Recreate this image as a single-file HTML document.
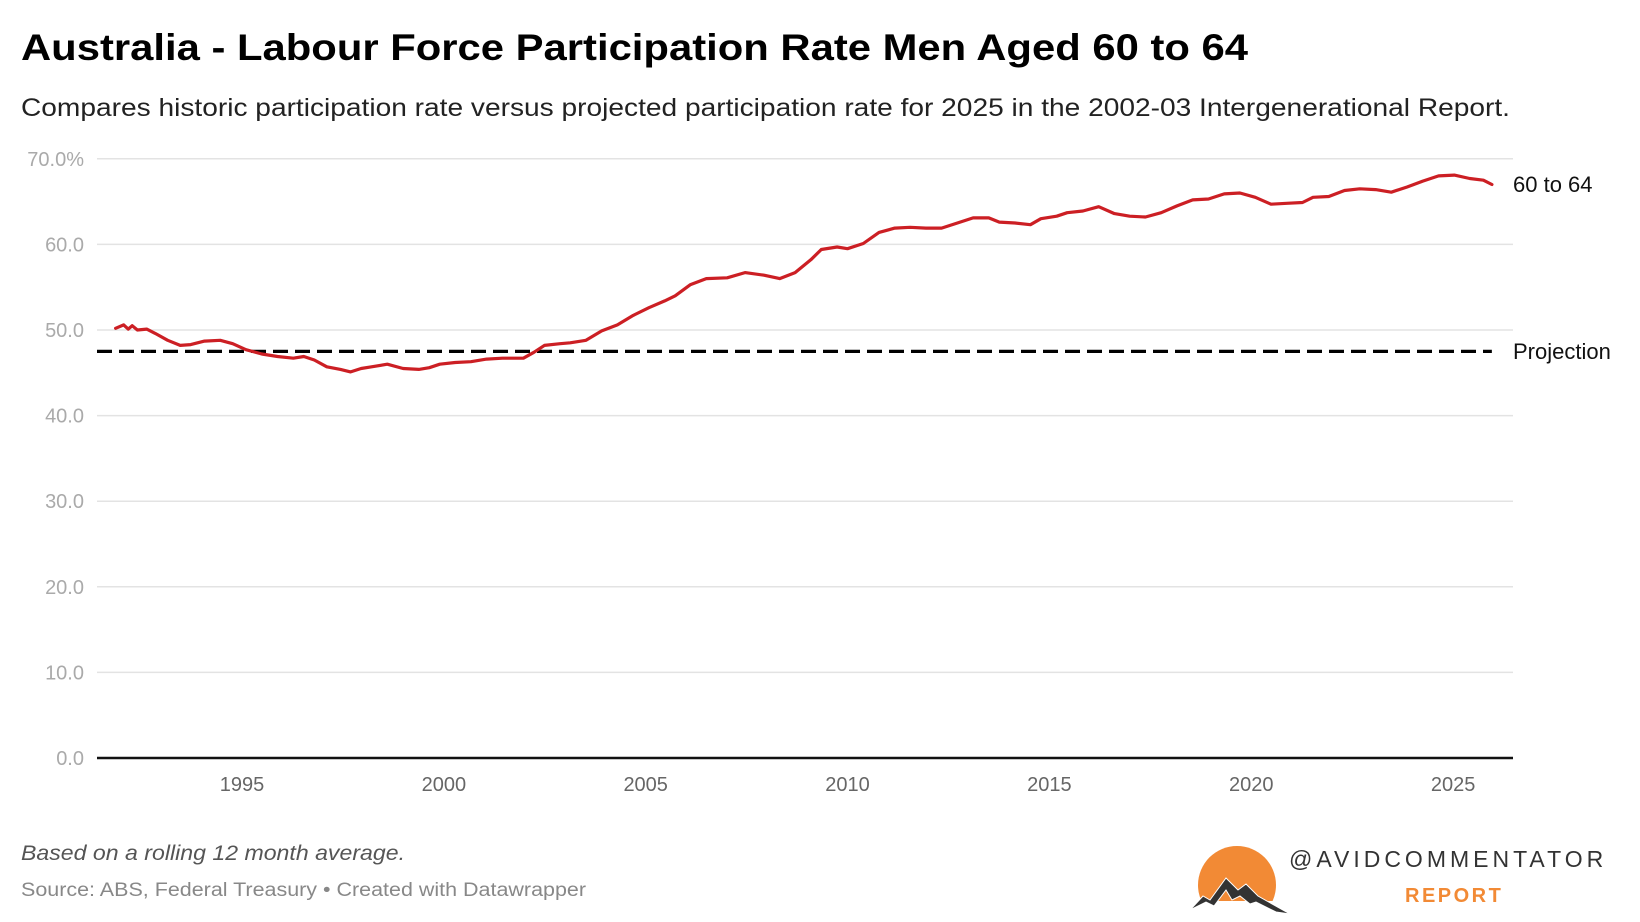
<!DOCTYPE html>
<html><head><meta charset="utf-8"><style>
html,body{margin:0;padding:0;background:#fff;}
svg{display:block;font-family:"Liberation Sans",Arial,sans-serif;}
</style></head><body>
<svg id="chart" width="1640" height="922" viewBox="0 0 1640 922">
<text x="21" y="60" font-size="37" font-weight="bold" fill="#000" textLength="1227" lengthAdjust="spacingAndGlyphs">Australia - Labour Force Participation Rate Men Aged 60 to 64</text>
<text x="21" y="116" font-size="25" fill="#222" textLength="1489" lengthAdjust="spacingAndGlyphs">Compares historic participation rate versus projected participation rate for 2025 in the 2002-03 Intergenerational Report.</text>
<g id="grid"></g><g id="xaxis"></g><g id="series"></g>
<text x="1513" y="192" font-size="22" fill="#111">60 to 64</text>
<text x="1513" y="359" font-size="22" fill="#111">Projection</text>
<text x="21" y="860" font-size="21" font-style="italic" fill="#555" textLength="384" lengthAdjust="spacingAndGlyphs">Based on a rolling 12 month average.</text>
<text x="21" y="896" font-size="19" fill="#888" textLength="565" lengthAdjust="spacingAndGlyphs">Source: ABS, Federal Treasury • Created with Datawrapper</text>
<g>
<circle cx="1237" cy="885" r="39" fill="#f28a35"/>
<rect x="1185" y="901" width="110" height="22" fill="#fff"/>
<polygon points="1190,910 1203,896 1210,900 1226,878 1238,890 1246,884 1258,896 1290,914 1276,912 1256,902 1250,904 1240,896 1232,900 1226,890 1214,906 1206,902" fill="#333" stroke="#fff" stroke-width="1"/>
<text x="1289" y="867" font-size="23" fill="#333" letter-spacing="4">@AVIDCOMMENTATOR</text>
<text x="1405" y="902" font-size="20" font-weight="bold" fill="#f28a35" letter-spacing="2.5">REPORT</text>
</g>
</svg>
<script>
const years=[1991.87,1992.07,1992.18,1992.28,1992.41,1992.64,1992.85,1993.16,1993.47,1993.73,1994.07,1994.46,1994.77,1995.10,1995.49,1995.88,1996.27,1996.53,1996.79,1997.10,1997.44,1997.69,1997.95,1998.21,1998.60,1998.99,1999.38,1999.64,1999.90,2000.28,2000.67,2001.06,2001.45,2001.97,2002.23,2002.49,2002.88,2003.13,2003.52,2003.91,2004.30,2004.69,2005.08,2005.47,2005.73,2006.11,2006.50,2007.02,2007.46,2007.93,2008.32,2008.70,2009.09,2009.35,2009.74,2010.00,2010.39,2010.78,2011.17,2011.55,2011.94,2012.33,2012.72,2013.11,2013.50,2013.76,2014.15,2014.53,2014.79,2015.18,2015.44,2015.83,2016.22,2016.61,2016.99,2017.38,2017.77,2018.16,2018.55,2018.94,2019.33,2019.72,2020.10,2020.49,2020.88,2021.27,2021.53,2021.92,2022.31,2022.69,2023.08,2023.47,2023.86,2024.25,2024.64,2025.03,2025.41,2025.75,2025.96];
const rates=[50.2,50.6,50.1,50.5,50.0,50.1,49.6,48.8,48.2,48.3,48.7,48.8,48.4,47.7,47.2,46.9,46.7,46.9,46.5,45.7,45.4,45.1,45.5,45.7,46.0,45.5,45.4,45.6,46.0,46.2,46.3,46.6,46.7,46.7,47.4,48.2,48.4,48.5,48.8,49.9,50.6,51.7,52.6,53.4,54.0,55.3,56.0,56.1,56.7,56.4,56.0,56.7,58.2,59.4,59.7,59.5,60.1,61.4,61.9,62.0,61.9,61.9,62.5,63.1,63.1,62.6,62.5,62.3,63.0,63.3,63.7,63.9,64.4,63.6,63.3,63.2,63.7,64.5,65.2,65.3,65.9,66.0,65.5,64.7,64.8,64.9,65.5,65.6,66.3,66.5,66.4,66.1,66.7,67.4,68.0,68.1,67.7,67.5,67.0];
const projectionValue=[47.5];
const yTicks=[0,10,20,30,40,50,60,70];
const yTickLabels=["0.0","10.0","20.0","30.0","40.0","50.0","60.0","70.0%"];
const xTicks=[1995,2000,2005,2010,2015,2020,2025];
const NS="http://www.w3.org/2000/svg";
const X0=97,X1=1513;
function xs(y){return 242+(y-1995)*40.37;}
function ys(v){return 758-v*8.56;}
function mk(tag,attrs,parent){const e=document.createElementNS(NS,tag);for(const k in attrs)e.setAttribute(k,attrs[k]);parent.appendChild(e);return e;}
const grid=document.getElementById('grid');
yTicks.forEach((t,i)=>{
  const l=mk('line',{x1:X0,x2:X1,y1:ys(t),y2:ys(t),stroke:t===0?'#111':'#e3e3e3','stroke-width':t===0?2.5:1.5},grid);
  
  
  const tx=mk('text',{x:84,y:ys(t)+7,'text-anchor':'end','font-size':20,fill:'#aaa'},grid);
  tx.textContent=yTickLabels[i];
  
  
});
const xa=document.getElementById('xaxis');
xTicks.forEach(t=>{
  const tx=mk('text',{x:xs(t),y:791,'text-anchor':'middle','font-size':20,fill:'#666'},xa);
  tx.textContent=t;
  
  
});
const s=document.getElementById('series');
const pl=mk('line',{x1:X0,x2:xs(years[years.length-1]),y1:ys(projectionValue[0]),y2:ys(projectionValue[0]),stroke:'#000','stroke-width':3.2,'stroke-dasharray':'15 7'},s);


const d=years.map((y,i)=>(i?'L':'M')+xs(y).toFixed(1)+','+ys(rates[i]).toFixed(1)).join('');
const p=mk('path',{d:d,fill:'none',stroke:'#cc1f24','stroke-width':3.2,'stroke-linejoin':'round','stroke-linecap':'round'},s);


</script>
</body></html>
